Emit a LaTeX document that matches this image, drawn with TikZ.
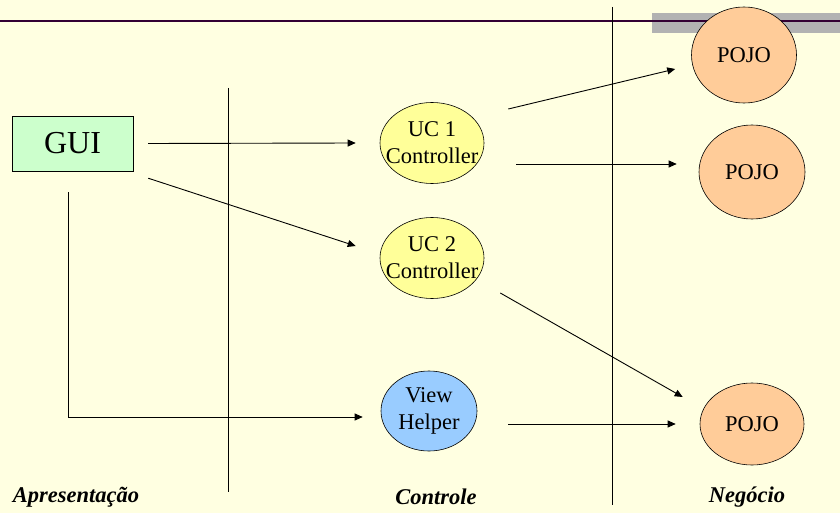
\documentclass[tikz,border=0pt]{standalone}
\usepackage{fontspec}
\setmainfont{Liberation Serif}
\usetikzlibrary{shapes.geometric,arrows.meta,positioning}
\definecolor{slidebg}{RGB}{255,255,225}
\definecolor{guigrn}{RGB}{204,255,204}
\definecolor{ucyel}{RGB}{255,255,153}
\definecolor{helpblu}{RGB}{153,204,255}
\definecolor{pojoorg}{RGB}{255,204,153}
\definecolor{rulepur}{RGB}{51,0,51}
\definecolor{bargray}{RGB}{178,178,178}

\begin{document}
\begin{tikzpicture}[
    x=1pt,y=-1pt,
    gbox/.style={draw,fill=guigrn,minimum width=121pt,minimum height=55pt,
                 inner sep=0pt,font=\fontsize{32}{36}\selectfont},
    oval/.style={ellipse,draw,inner sep=0pt,line width=0.6pt},
    lbl/.style={align=center,inner sep=0pt,font=\fontsize{22.5}{27}\selectfont},
    layer/.style={font=\fontsize{22.5}{26}\selectfont\bfseries\itshape},
    arr/.style={-{Triangle[length=8pt,width=7pt]},line width=0.9pt},
    sep/.style={line width=1pt}
  ]

  %% ── Slide background and title rule ──────────────────────────────────────
  \fill[slidebg] (0,0) rectangle (840,513);
  \useasboundingbox (0,0) rectangle (840,513);
  \fill[bargray] (652,13) rectangle (840,33);
  \draw[rulepur,line width=2.5pt] (0,21) -- (840,21);

  %% ── Layer separators ─────────────────────────────────────────────────────
  \draw[sep] (228,88) -- (228,492);
  \draw[sep] (612,7) -- (612,505);

  %% ── Presentation ─────────────────────────────────────────────────────────
  \node[gbox] (gui) at (72.5,143.5) {GUI};

  %% ── Controllers ──────────────────────────────────────────────────────────
  \node[oval,fill=ucyel,minimum width=104pt,minimum height=81pt,
        label={[lbl]center:UC 1\\Controller}] (uc1) at (432,143) {};
  \node[oval,fill=ucyel,minimum width=104pt,minimum height=81pt,
        label={[lbl]center:UC 2\\Controller}] (uc2) at (432,258) {};
  \node[oval,fill=helpblu,minimum width=96pt,minimum height=80pt,
        label={[lbl]center:View\\Helper}] (helper) at (429,411) {};

  %% ── Business objects ─────────────────────────────────────────────────────
  \node[oval,fill=pojoorg,minimum width=105pt,minimum height=96pt,
        label={[lbl]center:POJO}] (pojoA) at (744,55) {};
  \node[oval,fill=pojoorg,minimum width=106pt,minimum height=94pt,
        label={[lbl]center:POJO}] (pojoB) at (752,172) {};
  \node[oval,fill=pojoorg,minimum width=104pt,minimum height=82pt,
        label={[lbl]center:POJO}] (pojoC) at (752,424) {};

  %% ── Calls ────────────────────────────────────────────────────────────────
  \draw[arr] ([xshift=15pt]gui.east) -- ([xshift=-24pt]uc1.west);
  \draw[arr] ([xshift=15pt,yshift=-7pt]gui.south east)
      -- ([xshift=-24pt,yshift=12pt]uc2.west);
  \draw[arr] ([xshift=-4.5pt,yshift=-21pt]gui.south)
      |- ([xshift=-18pt,yshift=-6pt]helper.west);
  \draw[arr] ([xshift=24pt,yshift=34pt]uc1.east)
      -- ([xshift=-16pt,yshift=-14pt]pojoA.west);
  \draw[arr] ([xshift=32pt,yshift=-21pt]uc1.east)
      -- ([xshift=-22pt,yshift=8pt]pojoB.west);
  \draw[arr] ([xshift=16pt,yshift=-35pt]uc2.east)
      -- ([xshift=-17pt,yshift=27pt]pojoC.west);
  \draw[arr] ([xshift=31pt,yshift=-13pt]helper.east)
      -- ([xshift=-24pt]pojoC.west);

  %% ── Layer names ──────────────────────────────────────────────────────────
  \node[layer] (lpres) at (76,497) {Apresentação};
  \node[layer] (lctrl) at (436,497) {Controle};
  \node[layer] (lneg)  at (747,497) {Negócio};

\end{tikzpicture}
\end{document}
